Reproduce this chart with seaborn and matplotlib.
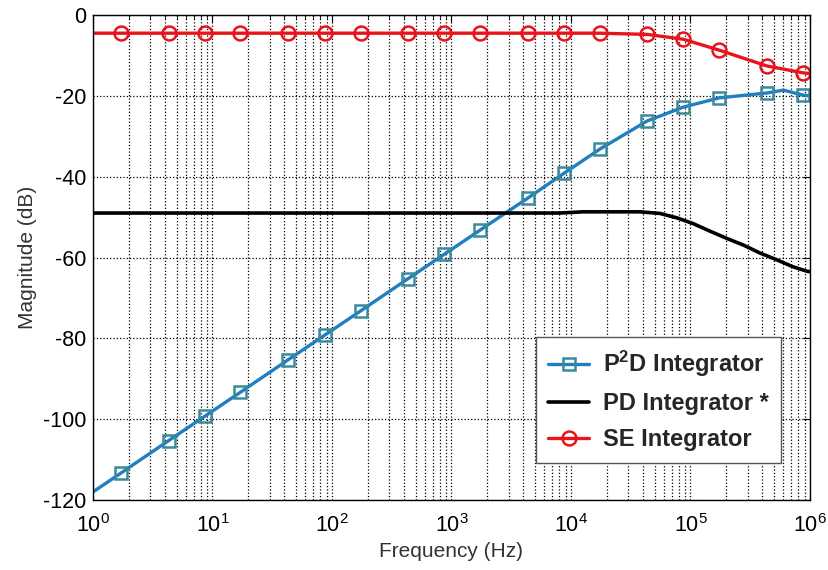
import matplotlib
matplotlib.use("Agg")
import matplotlib.pyplot as plt
import seaborn as sns
import numpy as np

# ---- data ----
p2d_freq = [1, 1.7, 4.3, 8.7, 17, 43, 87, 174, 435, 870, 1740, 4350, 8700,
            17400, 43500, 87000, 174000, 435000, 600000, 870000, 1000000]
p2d_db = [-118, -113.4, -105.3, -99.2, -93.4, -85.3, -79.2, -73.2, -65.2, -59.2,
          -53.2, -45.3, -39.2, -33.2, -26.2, -22.8, -20.5, -19.3, -18.6, -19.8, -20.0]
p2d_marks = [1, 2, 3, 4, 5, 6, 7, 8, 9, 10, 11, 12, 13, 14, 15, 16, 17, 19]

pd_freq = [1, 10, 100, 1000, 8000, 12600, 37800, 55600, 77100, 105000, 146000,
           202000, 276000, 382000, 530000, 721000, 944000, 1000000]
pd_db = [-49.0, -49.0, -49.0, -49.0, -49.0, -48.7, -48.7, -49.1, -50.2, -51.6, -53.5,
         -55.3, -56.9, -58.9, -60.6, -62.3, -63.4, -63.5]

se_freq = [1, 1.7, 4.3, 8.7, 17, 43, 87, 174, 435, 870, 1740, 4350, 8700,
           17400, 43500, 87000, 174000, 435000, 870000, 1000000]
se_db = [-4.5, -4.5, -4.5, -4.5, -4.5, -4.5, -4.5, -4.5, -4.5, -4.5, -4.5, -4.5, -4.5,
         -4.5, -4.8, -6.0, -8.7, -12.6, -14.3, -14.5]
se_marks = list(range(1, 19))

labels = [r"P$^\mathbf{2}$D Integrator", "PD Integrator *", "SE Integrator"]
y_ticks = [-120, -100, -80, -60, -40, -20, 0]

sns.set_style("white")
plt.rcParams["font.family"] = ["Liberation Sans", "DejaVu Sans"]
plt.rcParams["axes.unicode_minus"] = False
plt.rcParams["mathtext.fontset"] = "custom"
plt.rcParams["mathtext.rm"] = "Liberation Sans"
plt.rcParams["mathtext.bf"] = "Liberation Sans:bold"
plt.rcParams["mathtext.it"] = "Liberation Sans:italic"

fig = plt.figure(figsize=(8.29, 5.70), dpi=100)
ax = fig.add_axes([93 / 829, 70 / 570, 717 / 829, 485 / 570])
ax.set_xscale("log")

sns.lineplot(x=p2d_freq, y=p2d_db, ax=ax, color="#1f7fc0", linewidth=2.4,
             marker="s", markevery=p2d_marks, markersize=8,
             markerfacecolor="none", markeredgecolor="#3a8a9c",
             markeredgewidth=1.8, label=labels[0], estimator=None)
sns.lineplot(x=pd_freq, y=pd_db, ax=ax, color="black", linewidth=2.6,
             label=labels[1], estimator=None)
sns.lineplot(x=se_freq, y=se_db, ax=ax, color="#e8141b", linewidth=2.4,
             marker="o", markevery=se_marks, markersize=10,
             markerfacecolor="none", markeredgecolor="#e8141b",
             markeredgewidth=1.8, label=labels[2], estimator=None)

ax.set_xlim(1, 1e6)
ax.set_ylim(-120, 0)
ax.set_yticks(y_ticks)
ax.set_yticklabels([str(v) for v in y_ticks])
ax.xaxis.set_major_locator(matplotlib.ticker.LogLocator(base=10, numticks=10))
ax.xaxis.set_minor_locator(matplotlib.ticker.LogLocator(base=10, subs=np.arange(2, 10), numticks=20))

ax.grid(True, which="major", axis="both", linestyle=":", color="black", linewidth=0.9)
ax.grid(True, which="minor", axis="x", linestyle=":", color="black", linewidth=0.9)
ax.set_axisbelow(True)

ax.tick_params(which="both", direction="in", top=True, right=True, colors="black")
ax.tick_params(which="major", length=5, width=0.8, labelsize=15.5)
ax.tick_params(axis="x", which="major", pad=10)
ax.tick_params(axis="y", which="major", pad=5)
ax.tick_params(which="minor", length=3, width=0.6)
for s in ax.spines.values():
    s.set_color("black")
    s.set_linewidth(1.0)

ax.set_xlabel("Frequency (Hz)", fontsize=15, color="#333333", labelpad=4)
ax.set_ylabel("Magnitude (dB)", fontsize=15, color="#333333", labelpad=4)

leg = ax.legend(loc="lower right", bbox_to_anchor=(781 / 829, 107 / 570),
                bbox_transform=fig.transFigure, borderaxespad=0,
                frameon=True, fancybox=False,
                prop={"weight": "bold", "size": 17}, handlelength=1.75,
                handletextpad=0.6, borderpad=0.5, labelspacing=0.55,
                framealpha=1, edgecolor="#555555")
leg.get_frame().set_linewidth(1.0)

fig.savefig("out.png", dpi=100)
